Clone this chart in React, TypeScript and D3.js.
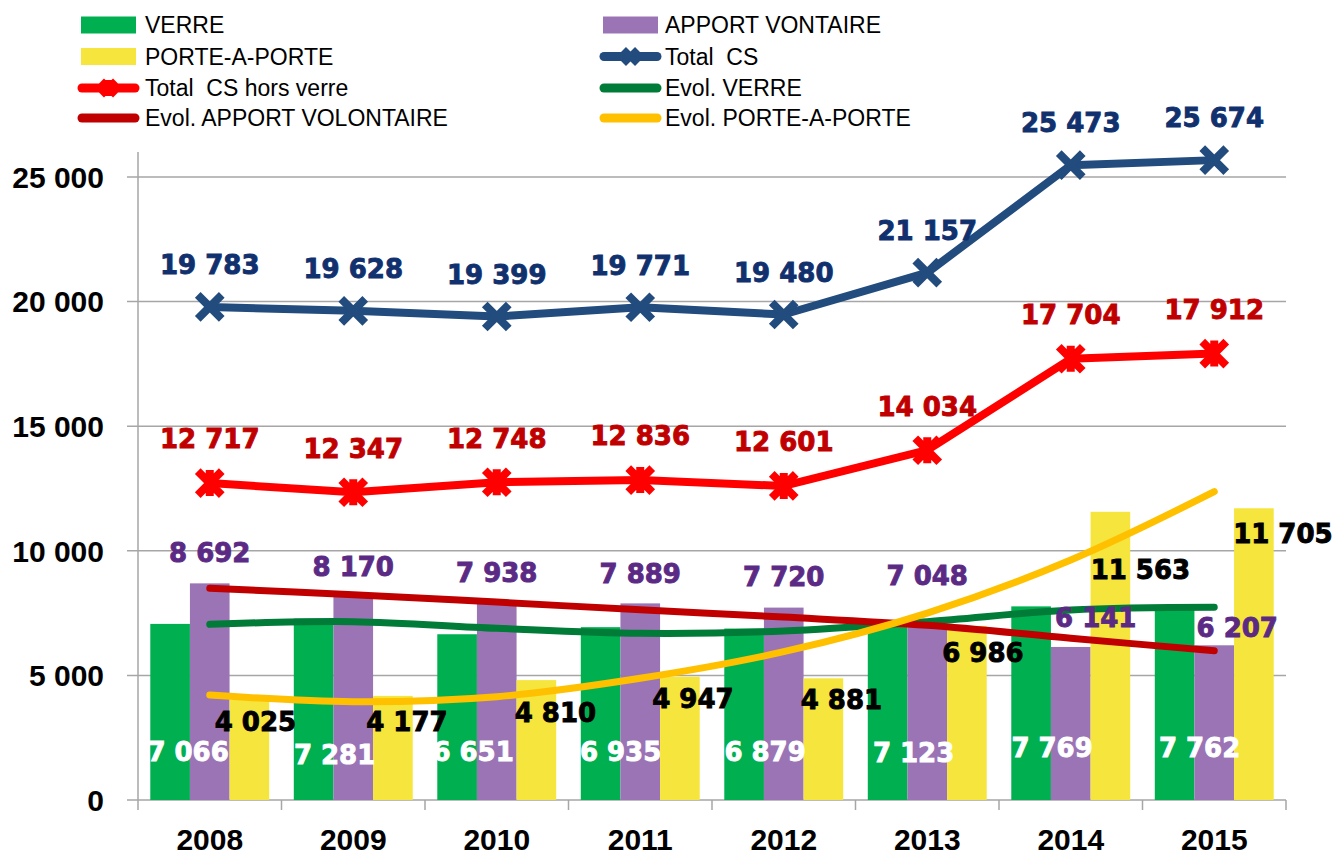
import * as d3 from 'd3';

// values
const years = ['2008', '2009', '2010', '2011', '2012', '2013', '2014', '2015'];
const verre = [7066, 7281, 6651, 6935, 6879, 7123, 7769, 7762];
const apportVolontaire = [8692, 8170, 7938, 7889, 7720, 7048, 6141, 6207];
const porteAPorte = [4025, 4177, 4810, 4947, 4881, 6986, 11563, 11705];
const totalCS = [19783, 19628, 19399, 19771, 19480, 21157, 25473, 25674];
const totalHorsVerre = [12717, 12347, 12748, 12836, 12601, 14034, 17704, 17912];
// trend lines as read at each year
const evolVerre = [7050, 7155, 6890, 6690, 6780, 7156, 7625, 7733];
const evolApport = [8495, 8240, 7940, 7630, 7340, 7010, 6490, 5990];
const evolPorte = [4213, 3946, 4146, 4883, 5950, 7500, 9631, 12372];

const barSeries = ['VERRE', 'APPORT VONTAIRE', 'PORTE-A-PORTE'];

const C = {
  verre: '#00B050',
  apport: '#9B74B6',
  porte: '#F5E53C',
  total: '#224B7E',
  horsVerre: '#FF0000',
  evolVerre: '#007B38',
  evolApport: '#C00000',
  evolPorte: '#FFC000',
  lblTotal: '#10306E',
  lblHors: '#C00000',
  lblApport: '#5B2A85',
  grid: '#A6A6A6',
};

// manual label placement (Excel labels were dragged around)
const verreLabelDx = [18, 21, 16, 20, 21, 26, 21, 25];
const verreLabelDy = [-48, -45, -48, -48, -48, -47, -52, -52];
const apportLabelOff = [[0, -31], [0, -30], [0, -30], [0, -30], [0, -31], [0, -49], [25, -29], [23, -18]];
const porteLabelOff = [[6, 22], [14, 26], [19, 33], [13, 22], [18, 21], [16, 27], [30, 58], [29, 25]];

const labelFont = { fontFamily: 'DejaVu Sans', fontWeight: 700, fontSize: 26, strokeWidth: 0.9 };
const axisFont = { fontFamily: 'Liberation Sans', fontWeight: 700, fontSize: 30 };

const crossPath = (s: number, star = false) =>
  `M${-s},${-s}L${s},${s}M${-s},${s}L${s},${-s}` + (star ? `M0,${-s - 1}L0,${s + 1}` : '');

export default function App() {
  const W = 1337;
  const H = 857;
  const x0 = d3.scaleBand<string>().domain(years).range([138, 1286]);
  const x1 = d3
    .scaleBand<string>()
    .domain(barSeries)
    .range([0, x0.bandwidth()])
    .paddingOuter(0.31);
  const y = d3.scaleLinear().domain([0, 26000]).range([800, 152]);
  const yTicks = y.ticks(5);
  const fmt = (v: number) => d3.format(',')(v).replace(/,/g, ' ');

  const cx = (i: number) => (x0(years[i]) as number) + x0.bandwidth() / 2;
  const line = d3
    .line<number>()
    .x((_, i) => cx(i))
    .y((v) => y(v));
  const trend = d3
    .line<number>()
    .x((_, i) => cx(i))
    .y((v) => y(v))
    .curve(d3.curveCatmullRom);

  const barData = [verre, apportVolontaire, porteAPorte];
  const barColors = [C.verre, C.apport, C.porte];

  const legendRows = [25, 56.5, 88, 118];
  const col = [
    { sx: 78, sw: 61, tx: 145 },
    { sx: 600, sw: 61, tx: 665 },
  ];
  type Leg = { label: string; kind: 'box' | 'line'; color: string; marker?: 'x' | 'star' };
  const legend: Leg[][] = [
    [
      { label: 'VERRE', kind: 'box', color: C.verre },
      { label: 'APPORT VONTAIRE', kind: 'box', color: C.apport },
    ],
    [
      { label: 'PORTE-A-PORTE', kind: 'box', color: C.porte },
      { label: 'Total  CS', kind: 'line', color: C.total, marker: 'x' },
    ],
    [
      { label: 'Total  CS hors verre', kind: 'line', color: C.horsVerre, marker: 'star' },
      { label: 'Evol. VERRE', kind: 'line', color: C.evolVerre },
    ],
    [
      { label: 'Evol. APPORT VOLONTAIRE', kind: 'line', color: C.evolApport },
      { label: 'Evol. PORTE-A-PORTE', kind: 'line', color: C.evolPorte },
    ],
  ];

  return (
    <svg
      width={W}
      height={H}
      style={{ position: 'absolute', left: 0, top: 0, background: '#fff' }}
    >
      {/* gridlines + y axis */}
      {yTicks.map((t) => (
        <g key={t}>
          <line x1={127} x2={1286} y1={y(t)} y2={y(t)} stroke={C.grid} strokeWidth={1.5} />
          <text x={104} y={y(t)} dy="0.36em" textAnchor="end" style={axisFont} fill="#000">
            {fmt(t)}
          </text>
        </g>
      ))}
      <line x1={138} x2={138} y1={y(26000)} y2={800} stroke={C.grid} strokeWidth={1.5} />
      {/* x ticks */}
      {[...years.map((yr) => x0(yr) as number), 1286].map((xv, i) => (
        <line key={i} x1={xv} x2={xv} y1={800} y2={810} stroke={C.grid} strokeWidth={1.5} />
      ))}
      {years.map((yr, i) => (
        <text key={yr} x={cx(i)} y={839} dy="0.36em" textAnchor="middle" style={axisFont}>
          {yr}
        </text>
      ))}

      {/* bars */}
      {barData.map((vals, s) =>
        vals.map((v, i) => (
          <rect
            key={`${s}-${i}`}
            x={(x0(years[i]) as number) + (x1(barSeries[s]) as number)}
            y={y(v)}
            width={x1.bandwidth()}
            height={800 - y(v)}
            fill={barColors[s]}
          />
        ))
      )}

      {/* trend lines */}
      {[
        [evolVerre, C.evolVerre],
        [evolApport, C.evolApport],
        [evolPorte, C.evolPorte],
      ].map(([vals, color], k) => (
        <path
          key={k}
          d={trend(vals as number[]) as string}
          fill="none"
          stroke={color as string}
          strokeWidth={7}
          strokeLinecap="round"
        />
      ))}

      {/* totals */}
      {[
        [totalHorsVerre, C.horsVerre, true],
        [totalCS, C.total, false],
      ].map(([vals, color, star], k) => (
        <g key={k}>
          <path
            d={line(vals as number[]) as string}
            fill="none"
            stroke={color as string}
            strokeWidth={8}
            strokeLinejoin="round"
          />
          {(vals as number[]).map((v, i) => (
            <path
              key={i}
              transform={`translate(${cx(i)},${y(v)})`}
              d={crossPath(12, star as boolean)}
              stroke={color as string}
              strokeWidth={8}
              fill="none"
            />
          ))}
        </g>
      ))}

      {/* data labels */}
      <g style={labelFont} textAnchor="middle">
        {verre.map((v, i) => (
          <text
            key={`v${i}`}
            x={(x0(years[i]) as number) + (x1(barSeries[0]) as number) + x1.bandwidth() / 2 + verreLabelDx[i]}
            y={y(0) + verreLabelDy[i]}
            dy="0.36em"
            fill="#fff"
            stroke="#fff"
          >
            {fmt(v)}
          </text>
        ))}
        {apportVolontaire.map((v, i) => (
          <text
            key={`a${i}`}
            x={cx(i) + apportLabelOff[i][0]}
            y={y(v) + apportLabelOff[i][1]}
            dy="0.36em"
            fill={C.lblApport}
            stroke={C.lblApport}
          >
            {fmt(v)}
          </text>
        ))}
        {porteAPorte.map((v, i) => (
          <text
            key={`p${i}`}
            x={(x0(years[i]) as number) + (x1(barSeries[2]) as number) + x1.bandwidth() / 2 + porteLabelOff[i][0]}
            y={y(v) + porteLabelOff[i][1]}
            dy="0.36em"
            fill="#000"
            stroke="#000"
          >
            {fmt(v)}
          </text>
        ))}
        {totalHorsVerre.map((v, i) => (
          <text key={`h${i}`} x={cx(i)} y={y(v) - 44} dy="0.36em" fill={C.lblHors} stroke={C.lblHors}>
            {fmt(v)}
          </text>
        ))}
        {totalCS.map((v, i) => (
          <text key={`t${i}`} x={cx(i)} y={y(v) - 42} dy="0.36em" fill={C.lblTotal} stroke={C.lblTotal}>
            {fmt(v)}
          </text>
        ))}
      </g>

      {/* legend */}
      {legend.map((row, r) =>
        row.map((item, c) => {
          const cy = legendRows[r];
          const { sx, sw, tx } = col[c];
          return (
            <g key={`${r}-${c}`}>
              {item.kind === 'box' ? (
                <rect x={sx + 3} y={cy - 8.5} width={sw - 6} height={17} fill={item.color} />
              ) : (
                <line
                  x1={sx + 4}
                  x2={sx + sw - 4}
                  y1={cy}
                  y2={cy}
                  stroke={item.color}
                  strokeWidth={9}
                  strokeLinecap="round"
                />
              )}
              {item.marker && (
                <path
                  transform={`translate(${sx + sw / 2},${cy})`}
                  d={crossPath(7, item.marker === 'star')}
                  stroke={item.color}
                  strokeWidth={7}
                  fill="none"
                />
              )}
              <text
                x={tx}
                y={cy}
                dy="0.36em"
                style={{ fontFamily: 'Liberation Sans', fontSize: 23, whiteSpace: 'pre' }}
              >
                {item.label}
              </text>
            </g>
          );
        })
      )}
    </svg>
  );
}
